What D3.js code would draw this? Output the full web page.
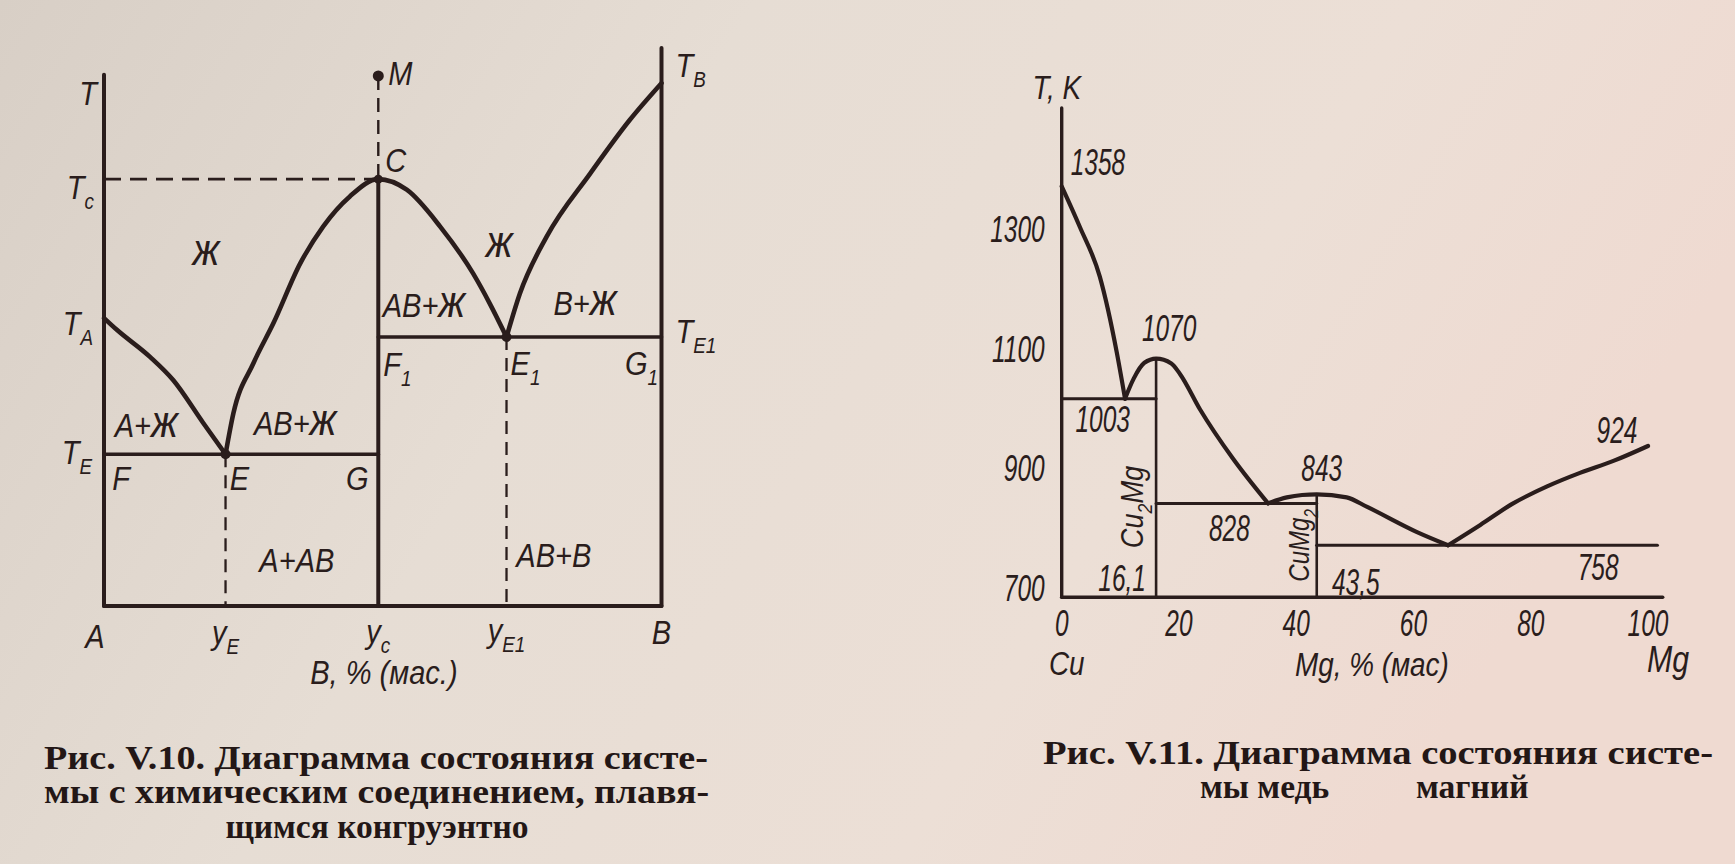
<!DOCTYPE html>
<html>
<head>
<meta charset="utf-8">
<script src="https://cdn.jsdelivr.net/npm/d3@7"></script>
<style>
  html, body { margin: 0; padding: 0; background: #e4dbd1; }
  svg { display: block; }
</style>
</head>
<body>
<svg id="page" width="1735" height="864"></svg>
<script>
// ---------------------------------------------------------------
// Рис. V.10 — schematic diagram, relative units (composition 0..100, T 0..100)
// ---------------------------------------------------------------
const compEutectic = 21.8;     // y_E
const compCompound = 49.2;     // y_C  (compound AB)
const compEutectic1 = 72.2;    // y_E1
const tempA = 51.6;            // T_A
const tempE = 27.2;            // T_E
const tempC = 76.5;            // T_C
const tempE1 = 48.2;           // T_E1
const tempB = 93.7;            // T_B
const tempM = 95;              // figurative point M
const tempAxisTop = 95.2;      // top of the T axis over A
const tempAxisTopB = 100;      // top of the axis over B

const liquidusA = [[0, 51.6], [2.3, 49.5], [8.3, 44.6], [12.4, 40.5], [17.8, 32.8], [21.8, 27.2]];
const liquidusABleft = [[21.8, 27.2], [23.2, 34.5], [26.8, 43.5], [30.4, 50.7], [35.2, 61.4],
                        [39.3, 68.0], [44.1, 73.4], [49.2, 76.5]];
const liquidusABright = [[49.2, 76.5], [54.3, 74.6], [60.3, 68.0], [66.2, 59.6], [69.2, 54.2], [72.2, 48.2]];
const liquidusB = [[72.2, 48.2], [74.6, 56.0], [79.4, 66.2], [87.2, 77.5], [94.3, 87.1], [100, 93.7]];

// ---------------------------------------------------------------
// Рис. V.11 — Cu–Mg system, Mg % (mass), T in K
// ---------------------------------------------------------------
const mgTicks = [0, 20, 40, 60, 80, 100];
const kelvinTicks = [700, 900, 1100, 1300];
const cuMelt = 1358, mgMelt = 924;
const cu2mgComp = 16.1, cu2mgMelt = 1070;
const cumg2Comp = 43.5, cumg2Melt = 843;
const eutectic1T = 1003, eutectic2T = 828, eutectic3T = 758;

const cuLiquidus = [[0, 1358], [3.1, 1290], [6.5, 1207], [9.4, 1080], [10.8, 1003]];
const cu2mgLeft = [[10.8, 1003], [12.3, 1037], [14.1, 1063], [16.1, 1070]];
const cu2mgRight = [[16.1, 1070], [18.7, 1062], [20.2, 1044], [23.6, 985], [29.2, 903], [35.2, 828]];
const cumg2Left = [[35.2, 828], [38.4, 838], [41.0, 842], [43.5, 843]];
const cumg2Right = [[43.5, 843], [48.6, 838], [52.1, 822], [60.6, 780], [65.9, 758]];
const mgLiquidus = [[65.9, 758], [71.4, 792], [77.0, 828], [82.7, 856], [88.4, 879], [94.1, 899], [100, 924]];

// ---------------------------------------------------------------
const W = 1735, H = 864;
const INK = "#2a1d1c";
const HAND = "'Liberation Sans', 'DejaVu Sans', Arial, sans-serif";
const SERIF = "'Liberation Serif', 'DejaVu Serif', 'Times New Roman', serif";

const svg = d3.select("#page");
const defs = svg.append("defs");
const paper = defs.append("linearGradient").attr("id", "paper")
  .attr("x1", 0).attr("x2", 1).attr("y1", 0).attr("y2", 0.3);
paper.append("stop").attr("offset", 0).attr("stop-color", "#d8cfc6");
paper.append("stop").attr("offset", 0.4).attr("stop-color", "#e6ddd4");
paper.append("stop").attr("offset", 0.75).attr("stop-color", "#ecdfd6");
paper.append("stop").attr("offset", 1).attr("stop-color", "#efdad1");
svg.append("rect").attr("width", W).attr("height", H).attr("fill", "url(#paper)");

// hand-lettered italic label; parts: "text", {sub: "..."} for subscripts, {big: "ж"} for enlarged letters
function label(g, x, y, parts, o = {}) {
  const size = o.size || 33;
  const sx = o.sx == null ? 0.88 : o.sx;
  let tf = `translate(${x},${y})`;
  if (o.rotate) tf += ` rotate(${o.rotate})`;
  tf += ` scale(${sx},1)`;
  const t = g.append("text")
    .attr("transform", tf)
    .attr("y", size * 0.36)
    .attr("text-anchor", o.anchor || "middle")
    .attr("font-family", o.family || HAND)
    .attr("font-style", "italic")
    .attr("font-size", size)
    .attr("fill", INK);
  const list = typeof parts === "string" ? [parts] : parts;
  let shift = 0;
  list.forEach(p => {
    const ts = t.append("tspan");
    const isText = typeof p === "string";
    if (isText || p.big != null) {
      ts.text(isText ? p : p.big);
      if (!isText) ts.attr("font-size", size * 1.35);
      if (shift) { ts.attr("dy", -shift); shift = 0; }
    } else {
      const d = size * 0.3;
      ts.text(p.sub).attr("font-size", size * 0.65).attr("dy", d - shift);
      shift = d;
    }
  });
  return t;
}

function seg(g, x1, y1, x2, y2, w, dash) {
  const l = g.append("line")
    .attr("x1", x1).attr("y1", y1).attr("x2", x2).attr("y2", y2)
    .attr("stroke", INK).attr("stroke-width", w).attr("stroke-linecap", "round");
  if (dash) l.attr("stroke-dasharray", dash).attr("stroke-linecap", "butt");
  return l;
}

const ZH = {big: "ж"};

// ================= Рис. V.10 =================
const gL = svg.append("g");
const xL = d3.scaleLinear().domain([0, 100]).range([104, 661.5]);
const yL = d3.scaleLinear().domain([0, 100]).range([606, 48]);
const lineL = d3.line().x(d => xL(d[0])).y(d => yL(d[1])).curve(d3.curveMonotoneX);

// frame
seg(gL, xL(0), yL(0), xL(0), yL(tempAxisTop), 4);
seg(gL, xL(100), yL(0), xL(100), yL(tempAxisTopB), 4);
seg(gL, xL(0), yL(0), xL(100), yL(0), 4);

// dashed construction lines
seg(gL, xL(0), yL(tempC), xL(compCompound), yL(tempC), 2.6, "17,9");
seg(gL, xL(compCompound), yL(tempM), xL(compCompound), yL(tempC), 2.4, "14,8");
seg(gL, xL(compEutectic), yL(tempE), xL(compEutectic), yL(0), 2.3, "13,8");
seg(gL, xL(compEutectic1), yL(tempE1), xL(compEutectic1), yL(0), 2.3, "13,8");

// compound ordinate and eutectic horizontals
seg(gL, xL(compCompound), yL(tempC), xL(compCompound), yL(0), 4);
seg(gL, xL(0), yL(tempE), xL(compCompound), yL(tempE), 3.6);
seg(gL, xL(compCompound), yL(tempE1), xL(100), yL(tempE1), 3.6);

// liquidus curves (the AB branch is one smooth dome through C)
const abDome = liquidusABleft.concat(liquidusABright.slice(1));
[liquidusA, abDome, liquidusB].forEach(pts => {
  gL.append("path").attr("d", lineL(pts)).attr("fill", "none")
    .attr("stroke", INK).attr("stroke-width", 4.6).attr("stroke-linecap", "round");
});

// points
gL.append("circle").attr("cx", xL(compCompound)).attr("cy", yL(tempM)).attr("r", 5.5).attr("fill", INK);
gL.append("circle").attr("cx", xL(compCompound)).attr("cy", yL(tempC)).attr("r", 4.5).attr("fill", INK);
gL.append("circle").attr("cx", xL(compEutectic)).attr("cy", yL(tempE)).attr("r", 5).attr("fill", INK);
gL.append("circle").attr("cx", xL(compEutectic1)).attr("cy", yL(tempE1)).attr("r", 5).attr("fill", INK);

// labels on the temperature axes
label(gL, xL(0) - 16, yL(tempAxisTop) + 18, "T");
label(gL, xL(0) - 10, yL(tempC) + 8, ["T", {sub: "c"}], {anchor: "end"});
label(gL, xL(0) - 11, yL(tempA) + 5, ["T", {sub: "A"}], {anchor: "end"});
label(gL, xL(0) - 12, yL(tempE) - 2, ["T", {sub: "E"}], {anchor: "end"});
label(gL, xL(100) + 14, yL(tempB) - 18, ["T", {sub: "B"}], {anchor: "start"});
label(gL, xL(100) + 14, yL(tempE1) - 6, ["T", {sub: "E1"}], {anchor: "start"});

// point names
label(gL, xL(compCompound) + 10, yL(tempM) - 3, "M", {anchor: "start"});
label(gL, xL(compCompound) + 7, yL(tempC) - 19, "C", {anchor: "start"});
label(gL, xL(0) + 17, yL(tempE) + 24, "F");
label(gL, xL(compEutectic) + 14, yL(tempE) + 24, "E");
label(gL, xL(compCompound) - 21, yL(tempE) + 24, "G");
label(gL, xL(compCompound) + 19, yL(tempE1) + 27, ["F", {sub: "1"}]);
label(gL, xL(compEutectic1) + 19, yL(tempE1) + 26, ["E", {sub: "1"}]);
label(gL, xL(100) - 20, yL(tempE1) + 26, ["G", {sub: "1"}]);

// phase fields
label(gL, xL(18.3), yL(63.3), [ZH]);
label(gL, xL(70.9), yL(64.7), [ZH]);
label(gL, xL(57.4), yL(53.9), ["AB+", ZH]);
label(gL, xL(86.3), yL(54.3), ["B+", ZH]);
label(gL, xL(7.6), yL(32.4), ["A+", ZH]);
label(gL, xL(34.3), yL(32.8), ["AB+", ZH]);
label(gL, xL(34.6), yL(8.2), "A+AB");
label(gL, xL(80.7), yL(9.1), "AB+B");

// composition axis
label(gL, xL(0) - 9, yL(0) + 30, "A");
label(gL, xL(compEutectic), yL(0) + 26, ["y", {sub: "E"}]);
label(gL, xL(compCompound), yL(0) + 25, ["y", {sub: "c"}]);
label(gL, xL(compEutectic1), yL(0) + 24, ["y", {sub: "E1"}]);
label(gL, xL(100), yL(0) + 26, "B");
label(gL, xL(50.2), yL(0) + 66, "B, % (мас.)");

// ================= Рис. V.11 =================
const gR = svg.append("g");
const xR = d3.scaleLinear().domain([0, 100]).range([1061.7, 1648]);
const yR = d3.scaleLinear().domain([671, 1489]).range([597.3, 108]);
const lineR = d3.line().x(d => xR(d[0])).y(d => yR(d[1])).curve(d3.curveMonotoneX);
const tBase = yR.domain()[0], tTop = yR.domain()[1];

// axes
seg(gR, xR(0), yR(tBase), xR(0), yR(tTop), 3.4);
seg(gR, xR(0), yR(tBase), xR(102.5), yR(tBase), 3.6);

// compound ordinates and eutectic horizontals
seg(gR, xR(cu2mgComp), yR(cu2mgMelt), xR(cu2mgComp), yR(tBase), 2.6);
seg(gR, xR(cumg2Comp), yR(cumg2Melt), xR(cumg2Comp), yR(tBase), 2.6);
seg(gR, xR(0), yR(eutectic1T), xR(cu2mgComp), yR(eutectic1T), 3);
seg(gR, xR(cu2mgComp), yR(eutectic2T), xR(cumg2Comp), yR(eutectic2T), 3);
seg(gR, xR(cumg2Comp), yR(eutectic3T), xR(101.6), yR(eutectic3T), 3.2);

// liquidus: each compound maximum is one smooth dome
const cu2mgDome = cu2mgLeft.concat(cu2mgRight.slice(1));
const cumg2Dome = cumg2Left.concat(cumg2Right.slice(1));
[cuLiquidus, cu2mgDome, cumg2Dome, mgLiquidus].forEach(pts => {
  gR.append("path").attr("d", lineR(pts)).attr("fill", "none")
    .attr("stroke", INK).attr("stroke-width", 4.2).attr("stroke-linecap", "round")
    .attr("stroke-linejoin", "round");
});

// tick labels
const numOpt = {size: 36, sx: 0.68};
kelvinTicks.forEach(t => label(gR, xR(0) - 17, yR(t) + 8, String(t), {...numOpt, anchor: "end"}));
mgTicks.forEach(v => label(gR, xR(v), yR(tBase) + 26, String(v), numOpt));
label(gR, xR(0) - 5, yR(tTop) - 21, "T, K", {size: 34, sx: 0.82});

// values on the diagram
label(gR, xR(0) + 9, yR(cuMelt) - 24, String(cuMelt), {...numOpt, anchor: "start"});
label(gR, xR(cu2mgComp) + 13, yR(cu2mgMelt) - 31, String(cu2mgMelt), numOpt);
label(gR, xR(0) + 41, yR(eutectic1T) + 20, String(eutectic1T), numOpt);
label(gR, xR(28.6), yR(eutectic2T) + 25, String(eutectic2T), numOpt);
label(gR, xR(cumg2Comp) + 5, yR(cumg2Melt) - 26, String(cumg2Melt), numOpt);
label(gR, xR(91.5), yR(eutectic3T) + 22, String(eutectic3T), numOpt);
label(gR, xR(100) - 31, yR(mgMelt) - 16, String(mgMelt), numOpt);
label(gR, xR(cu2mgComp) - 34, yR(tBase) - 19, String(cu2mgComp).replace(".", ","), numOpt);
label(gR, xR(cumg2Comp) + 39, yR(tBase) - 15, String(cumg2Comp).replace(".", ","), numOpt);

// compound names, written upwards
label(gR, xR(cu2mgComp) - 25, (yR(eutectic1T) + yR(tBase)) / 2 + 9,
      ["Cu", {sub: "2"}, "Mg"], {size: 32, sx: 0.85, rotate: -90});
label(gR, xR(cumg2Comp) - 19, (yR(eutectic2T) + yR(tBase)) / 2 - 5,
      ["CuMg", {sub: "2"}], {size: 30, sx: 0.8, rotate: -90});

// component names and axis title
label(gR, xR(0) + 5, yR(tBase) + 65, "Cu", {size: 34, sx: 0.82});
label(gR, xR(100) + 20, yR(tBase) + 61, "Mg", {size: 37, sx: 0.82});
label(gR, xR(52.9), yR(tBase) + 66, "Mg, % (мас)", {size: 34, sx: 0.82});

// ================= captions =================
function caption(x, y, text, opts = {}) {
  const t = svg.append("text")
    .attr("x", x).attr("y", y)
    .attr("font-family", SERIF).attr("font-weight", "bold")
    .attr("font-size", opts.size || 33.5)
    .attr("fill", "#231716")
    .attr("text-anchor", opts.anchor || "start")
    .text(text);
  if (opts.length) t.attr("textLength", opts.length).attr("lengthAdjust", "spacingAndGlyphs");
  return t;
}
caption(44, 769, "Рис. V.10. Диаграмма состояния систе-", {length: 664});
caption(44, 803, "мы с химическим соединением, плавя-", {length: 665});
caption(377, 838, "щимся конгруэнтно", {anchor: "middle"});
caption(1043, 764, "Рис. V.11. Диаграмма состояния систе-", {length: 670});
caption(1200, 798, "мы медь");
caption(1416, 798, "магний");
</script>
</body>
</html>
